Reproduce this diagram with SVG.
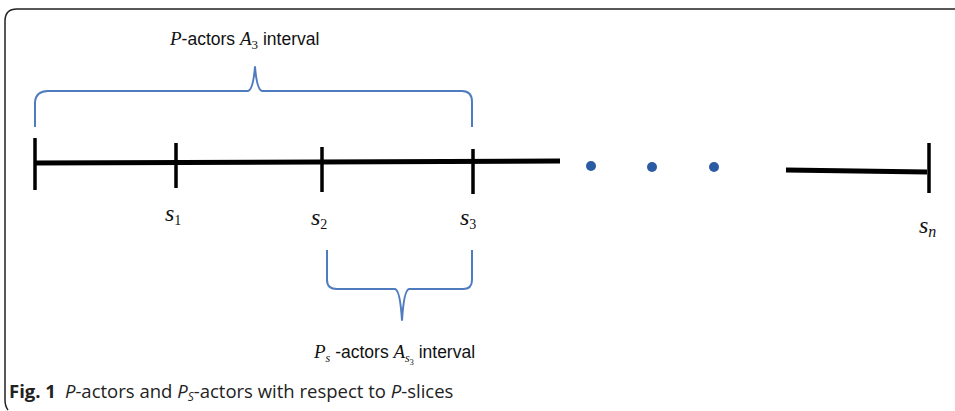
<svg xmlns="http://www.w3.org/2000/svg" width="955" height="411" viewBox="0 0 955 411">
  <style>
    .frame { fill: none; stroke: #222; stroke-width: 1.5; }
    .axis { stroke: #000; stroke-width: 5; stroke-linecap: butt; fill: none; }
    .tick { stroke: #000; stroke-width: 3.5; }
    .brace { fill: none; stroke: #4f7cbf; stroke-width: 2; stroke-linejoin: round; }
    .dot { fill: #2b5ca3; }
    .math { font-family: "Liberation Serif", serif; font-style: italic; font-size: 24px; fill: #111; }
    .it { font-family: "Liberation Serif", serif; font-style: italic; }
    .lbl { font-family: "Liberation Sans", Arial, sans-serif; font-size: 17.5px; fill: #111; }
    .sub { font-size: 14px; font-style: normal; }
    .cap { font-family: "Open Sans", "Noto Sans", sans-serif; font-size: 18.5px; fill: #222; }
  </style>

  <!-- figure frame -->
  <path class="frame" d="M955,9 H17 Q5,9 5,21 V400 Q5,406 8,410"/>

  <g id="top-brace">
    <path class="brace" d="M35,127 V102 Q36,91 48,91 H248 Q253,90 255,67 Q257,90 262,91 H462 Q472,91 472,102 V127"/>
    <text x="170" y="45" class="lbl"><tspan class="it" font-size="19">P</tspan>-actors <tspan class="it" font-size="19">A</tspan><tspan font-family="Liberation Serif" style="font-size:13px" dy="4">3</tspan><tspan dy="-4"> interval</tspan></text>
  </g>

  <g id="axis">
    <line class="axis" x1="34" y1="163" x2="560" y2="161"/>
    <line class="axis" x1="786" y1="170" x2="927" y2="172"/>
  </g>

  <g id="tick-s0"><line class="tick" x1="35" y1="138" x2="35" y2="190"/></g>
  <g id="tick-s1">
    <line class="tick" x1="176" y1="143" x2="176" y2="188"/>
    <text x="165" y="221" class="math">s<tspan class="sub" dy="4">1</tspan></text>
  </g>
  <g id="tick-s2">
    <line class="tick" x1="322" y1="147" x2="322" y2="192"/>
    <text x="311" y="225" class="math">s<tspan class="sub" dy="4">2</tspan></text>
  </g>
  <g id="tick-s3">
    <line class="tick" x1="473" y1="149" x2="473" y2="194"/>
    <text x="460" y="225" class="math">s<tspan class="sub" dy="4">3</tspan></text>
  </g>
  <g id="tick-sn">
    <line class="tick" x1="929" y1="143" x2="929" y2="193"/>
    <text x="919" y="233" class="math">s<tspan style="font-size:16px" dy="4">n</tspan></text>
  </g>

  <g id="ellipsis">
    <circle class="dot" cx="591" cy="166" r="5"/>
    <circle class="dot" cx="652" cy="167" r="5"/>
    <circle class="dot" cx="714" cy="167" r="5"/>
  </g>

  <g id="bottom-brace">
    <path class="brace" d="M327,250 V280 Q327,289 337,289 H395 Q400,290 402,320 Q404,290 409,289 H463 Q472,289 472,280 V250"/>
    <text x="314" y="358" class="lbl"><tspan class="it" font-size="19">P</tspan><tspan class="it" style="font-size:12px" dy="4">s</tspan><tspan dy="-4"> -actors </tspan><tspan class="it" font-size="19">A</tspan><tspan class="it" style="font-size:12px" dy="4">s</tspan><tspan font-family="Liberation Serif" style="font-size:8px" dy="3">3</tspan><tspan dy="-7"> interval</tspan></text>
  </g>

  <g id="caption">
    <text x="9" y="398" class="cap"><tspan font-weight="bold">Fig. 1</tspan><tspan dx="9" font-style="italic">P</tspan>-actors and <tspan font-style="italic">P</tspan><tspan font-style="italic" style="font-size:12px" dy="3">S</tspan><tspan dy="-3">-actors with respect to </tspan><tspan font-style="italic">P</tspan>-slices</text>
  </g>
</svg>
